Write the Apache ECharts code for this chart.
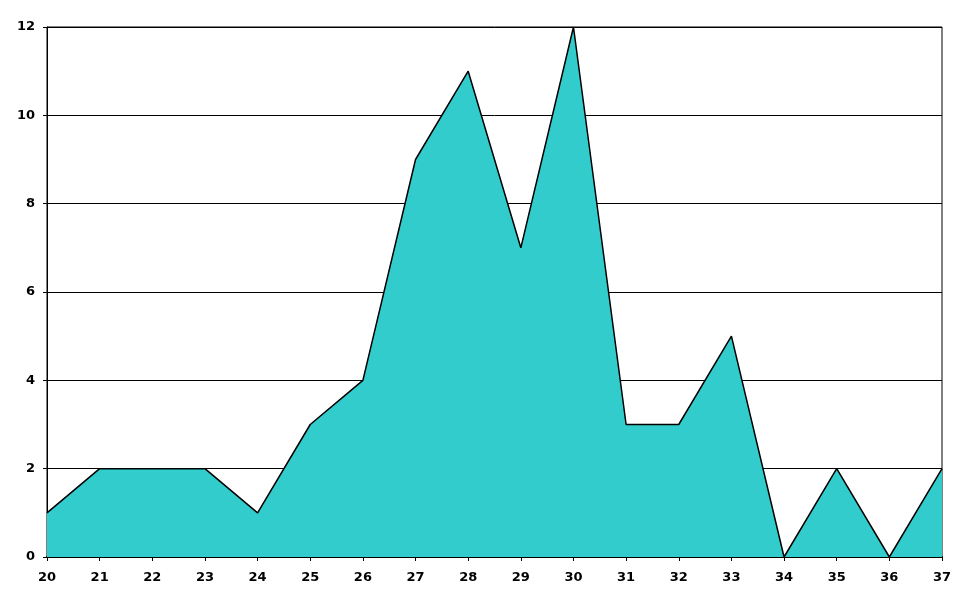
<!DOCTYPE html>
<html><head><meta charset="utf-8">
<script src="https://cdn.jsdelivr.net/npm/echarts@6/dist/echarts.min.js"></script>
<style>html,body{margin:0;padding:0;background:#fff}#c{width:970px;height:604px}</style>
</head><body><div id="c"></div>
<script>
const categories = ['20','21','22','23','24','25','26','27','28','29','30','31','32','33','34','35','36','37'];
const values = [1,2,2,2,1,3,4,9,11,7,12,3,3,5,0,2,0,2];
const yTicks = {min:0, max:12, interval:2};
const chart = echarts.init(document.getElementById('c'));
const lab = {color:'#000', fontFamily:'DejaVu Sans', fontWeight:'bold', fontSize:13};
chart.setOption({
  animation:false,
  grid:{left:47,right:28,top:27,bottom:47,show:true,borderColor:'#000',borderWidth:1,backgroundColor:'transparent'},
  xAxis:{type:'category',data:categories,boundaryGap:false,
    axisLine:{lineStyle:{color:'#000',width:2}},
    axisTick:{show:true,length:4,inside:false,lineStyle:{color:'#000'}},
    axisLabel:Object.assign({margin:14},lab),
    splitLine:{show:false}},
  yAxis:{type:'value',min:yTicks.min,max:yTicks.max,interval:yTicks.interval,
    axisLine:{show:true,lineStyle:{color:'#000',width:1}},
    axisTick:{show:true,length:4,lineStyle:{color:'#000'}},
    axisLabel:Object.assign({margin:12},lab),
    splitLine:{show:true,lineStyle:{color:'#000',width:1}}},
  series:[{type:'line',data:values,symbol:'none',
    lineStyle:{color:'#000',width:1.5},
    areaStyle:{color:'#33CCCC',opacity:1}}]
});
</script></body></html>
